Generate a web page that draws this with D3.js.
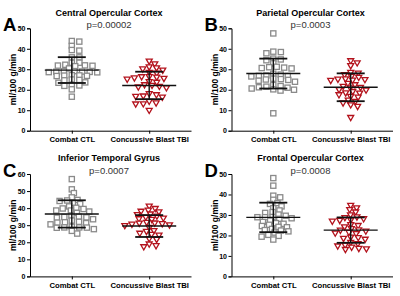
<!DOCTYPE html>
<html>
  <head>
    <meta charset="utf-8">
    <title>Regional CBF scatter plots</title>
    <script src="https://d3js.org/d3.v7.min.js"></script>
    <style>
      body { margin: 0; background: #fff; }
      text { font-family: "Liberation Sans", Arial, sans-serif; }
    </style>
  </head>
  <body>
    <div id="chart"></div>
    <script>
      var letters = ["A", "B", "C", "D"];
      var titles = ["Central Opercular Cortex", "Parietal Opercular Cortex", "Inferior Temporal Gyrus", "Frontal Opercular Cortex"];
      var pValues = ["p=0.00002", "p=0.0003", "p=0.0007", "p=0.0008"];
      var yMax = [50, 50, 60, 50];
      var groups = ["Combat CTL", "Concussive Blast TBI"];
      var yLabel = "ml/100 g/min";

      var ctlA = [43.8, 43.5, 41.4, 39.4, 39.1, 35.8, 35.8, 33.2, 33.2, 32.2, 31.7, 31.9, 31.5, 31.8, 30.4, 29.0, 28.8, 28.6, 28.9, 28.5, 29.1, 28.7,
                  26.9, 27.1, 26.7, 27.0, 26.8, 24.8, 25.0, 24.6, 23.6, 23.4, 22.3, 22.1, 21.9, 20.2, 16.6];
      var tbiA = [33.8, 32.5, 30.5, 31.0, 30.0, 29.4, 28.3, 28.0, 25.6, 25.4, 26.2, 26.0, 26.3, 25.0, 23.5, 23.8, 22.3, 22.0, 21.5, 21.2,
                  20.8, 18.0, 17.4, 16.6, 16.8, 16.2, 14.2, 13.4, 12.9, 13.0, 9.8];
      var ctlB = [47.5, 38.6, 38.4, 37.8, 35.2, 34.8, 34.4, 32.9, 31.2, 31.0, 30.6, 30.4, 30.8, 27.8, 27.4, 26.7, 26.5, 27.0, 26.8, 25.0,
                  25.2, 24.8, 24.4, 23.9, 25.4, 22.3, 21.8, 21.5, 21.2, 20.6, 20.2, 19.6, 20.0, 21.0, 8.5];
      var tbiB = [34.0, 33.0, 31.6, 28.3, 28.0, 27.2, 26.4, 25.9, 25.0, 24.8, 24.5, 25.2, 24.4, 23.0, 22.3, 21.5, 21.0, 20.8, 19.9, 19.7,
                  19.0, 18.3, 18.2, 17.4, 16.6, 16.2, 14.8, 14.2, 13.4, 12.5, 11.7, 6.3];
      var ctlC = [57.0, 51.0, 48.8, 46.3, 44.5, 44.2, 44.8, 43.0, 42.4, 41.0, 40.2, 39.8, 39.5, 38.6, 38.6, 38.0, 37.2, 35.6, 35.0, 34.6,
                  34.8, 34.4, 33.5, 32.7, 32.0, 31.7, 31.5, 31.2, 30.5, 29.1, 28.7, 28.5, 28.7, 28.6, 27.7, 26.7, 25.1];
      var tbiC = [41.0, 39.6, 38.6, 38.0, 37.6, 36.0, 36.4, 35.2, 34.6, 34.0, 33.6, 33.2, 31.5, 31.1, 31.0, 30.7, 30.4, 30.0, 29.6, 28.5,
                  26.7, 26.2, 25.1, 24.5, 24.0, 22.0, 21.5, 18.8, 17.8, 17.2];
      var ctlD = [48.0, 44.3, 39.4, 38.6, 37.4, 35.8, 35.4, 34.2, 33.3, 32.2, 31.4, 31.0, 30.2, 29.6, 29.0, 28.9, 28.9, 28.4, 28.1, 27.2,
                  26.6, 26.0, 25.7, 25.2, 24.6, 24.2, 24.0, 23.2, 22.6, 22.4, 22.0, 21.4, 20.3, 19.8, 19.4, 18.0];
      var tbiD = [34.5, 33.3, 32.5, 31.3, 29.9, 28.9, 28.6, 28.0, 27.4, 27.2, 26.8, 25.1, 24.7, 24.0, 23.2, 22.6, 22.4, 22.0, 21.4, 21.0,
                  20.8, 19.0, 18.8, 18.4, 18.0, 16.4, 15.8, 15.1, 14.7, 14.1, 13.5, 13.3, 13.0];

      // mean and SD
      var means = [[29.6, 22.1], [27.9, 21.2], [36.6, 29.5], [28.8, 22.6]];
      var sds = [[6.3, 6.7], [7.3, 6.8], [8.0, 6.4], [7.2, 6.2]];

      var values = [[ctlA, tbiA], [ctlB, tbiB], [ctlC, tbiC], [ctlD, tbiD]];

      var width = 400, height = 296;
      var axisX = [30, 231.5];
      var plotTop = [28.3, 174];
      var plotH = 102.4, plotW = 161;

      var svg = d3.select("#chart").append("svg")
                  .attr("width", width)
                  .attr("height", height);

      function swarm(vals, y, rx, ry) {
        var pts = vals.map(function(v) { return {v: v, y: y(v), x: 0}; })
                      .sort(function(a, b) { return a.y - b.y; });
        var placed = [];
        pts.forEach(function(p) {
          var cands = [0];
          placed.forEach(function(q) {
            var dy = p.y - q.y;
            if (Math.abs(dy) < ry) {
              var dx = rx * Math.sqrt(1 - (dy / ry) * (dy / ry));
              cands.push(q.x + dx, q.x - dx);
            }
          });
          cands.sort(function(a, b) { return Math.abs(a) - Math.abs(b); });
          for (var i = 0; i < cands.length; i++) {
            var c = cands[i];
            var ok = placed.every(function(q) {
              var a = (c - q.x) / rx, b = (p.y - q.y) / ry;
              return a * a + b * b >= 0.999;
            });
            if (ok) { p.x = c; break; }
          }
          placed.push(p);
        });
        return pts;
      }

      letters.forEach(function(letter, k) {
        var x0 = axisX[k % 2];
        var top = plotTop[Math.floor(k / 2)];
        var bottom = top + plotH;

        var y = d3.scaleLinear().domain([0, yMax[k]]).range([bottom, top]);
        var x = d3.scalePoint().domain(groups).range([x0, x0 + plotW]).padding(0.54);

        var g = svg.append("g");

        g.append("g")
         .attr("transform", "translate(" + x0 + ",0)")
         .call(d3.axisLeft(y).ticks(yMax[k] / 10).tickSize(3).tickPadding(1.5))
         .call(function(s) {
           s.selectAll("path, line").attr("stroke", "#000").attr("stroke-width", 1);
           s.selectAll("text").attr("font-size", 7).attr("font-weight", "bold")
            .attr("font-family", "Liberation Sans, Arial, sans-serif").attr("fill", "#000");
         });

        g.append("g")
         .attr("transform", "translate(0," + bottom + ")")
         .call(d3.axisBottom(x).tickSize(3).tickSizeOuter(0).tickPadding(3))
         .call(function(s) {
           s.selectAll("path, line").attr("stroke", "#000").attr("stroke-width", 1);
           s.selectAll("text").attr("font-size", 7.7).attr("font-weight", "bold")
            .attr("font-family", "Liberation Sans, Arial, sans-serif").attr("fill", "#000");
         });

        groups.forEach(function(grp, j) {
          var pts = swarm(values[k][j], y, 7.6, 3.9);
          var cx = x(grp);
          if (j === 0) {
            g.selectAll("rect.ctl" + k)
             .data(pts).enter().append("rect")
             .attr("class", "ctl" + k)
             .attr("x", function(d) { return cx + d.x - 2.6; })
             .attr("y", function(d) { return d.y - 2.6; })
             .attr("width", 5.2).attr("height", 5.2)
             .attr("fill", "#fff").attr("stroke", "#8a8a8a").attr("stroke-width", 1.3);
          } else {
            g.selectAll("path.tbi" + k)
             .data(pts).enter().append("path")
             .attr("class", "tbi" + k)
             .attr("d", function(d) {
               var px = cx + d.x, py = d.y;
               return "M" + (px - 3) + "," + (py - 2.3) + "L" + (px + 3) + "," + (py - 2.3) + "L" + px + "," + (py + 2.9) + "Z";
             })
             .attr("fill", "#fff").attr("stroke", "#b3121c").attr("stroke-width", 1.3);
          }

          var m = means[k][j], s = sds[k][j];
          g.append("line").attr("x1", cx - 27).attr("x2", cx + 27)
           .attr("y1", y(m)).attr("y2", y(m))
           .attr("stroke", "#111").attr("stroke-width", 1.4);
          g.append("line").attr("x1", cx).attr("x2", cx)
           .attr("y1", y(m + s)).attr("y2", y(m - s))
           .attr("stroke", "#111").attr("stroke-width", 1.4);
          [m + s, m - s].forEach(function(v) {
            g.append("line").attr("x1", cx - 14).attr("x2", cx + 14)
             .attr("y1", y(v)).attr("y2", y(v))
             .attr("stroke", "#111").attr("stroke-width", 1.8);
          });
        });

        g.append("text")
         .attr("x", x0 + 79).attr("y", top - 12.6)
         .attr("text-anchor", "middle")
         .attr("font-size", 9).attr("font-weight", "bold")
         .text(titles[k]);

        g.append("text")
         .attr("x", x0 + 79).attr("y", top)
         .attr("text-anchor", "middle")
         .attr("font-size", 9.5).attr("fill", "#333")
         .text(pValues[k]);

        g.append("text")
         .attr("x", x0 - 27).attr("y", top + 2.5)
         .attr("font-size", 18.5).attr("font-weight", "bold")
         .text(letter);

        g.append("text")
         .attr("transform", "translate(" + (x0 - 14) + "," + (top + plotH / 2) + ") rotate(-90)")
         .attr("text-anchor", "middle")
         .attr("font-size", 8.5).attr("font-weight", "bold")
         .text(yLabel);
      });
    </script>
  </body>
</html>
